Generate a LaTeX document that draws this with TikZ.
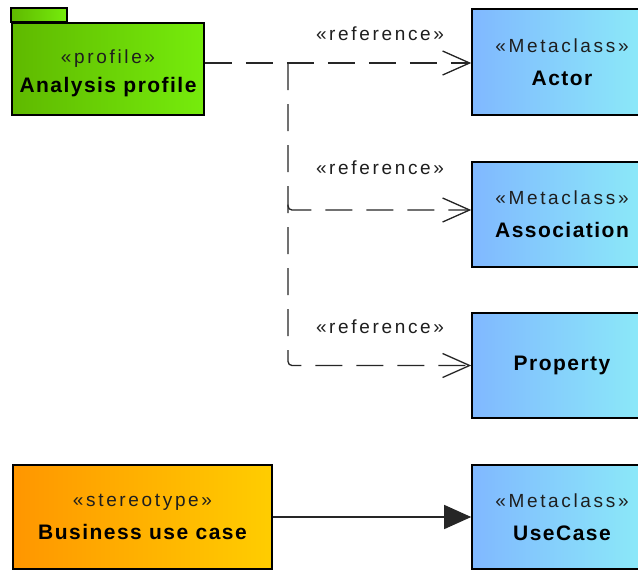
\documentclass[tikz,border=0pt]{standalone}
\usepackage{fontspec}
\setmainfont{Liberation Sans}
\newfontfamily\mystfont[LetterSpace=14]{Liberation Sans}
\newfontfamily\mynmfont[LetterSpace=7]{Liberation Sans}
\usetikzlibrary{arrows.meta}
\definecolor{pkgL}{RGB}{95,185,0}
\definecolor{pkgR}{RGB}{118,236,12}
\definecolor{metaL}{RGB}{128,184,255}
\definecolor{metaR}{RGB}{140,236,248}
\definecolor{bizL}{RGB}{255,150,0}
\definecolor{bizR}{RGB}{255,205,0}
\definecolor{txt}{RGB}{30,30,30}
\newcommand\mystereo[1]{{\mystfont\fontsize{19}{33}\selectfont\color{txt}#1}}
\newcommand\myname[1]{{\mynmfont\bfseries\fontsize{21}{33}\selectfont #1}}
\tikzset{
  box/.style={draw=black, line width=1.6pt, minimum width=180pt, minimum height=105pt,
    inner sep=0pt, align=center, font=\fontsize{19}{33}\selectfont},
  meta/.style={box, left color=metaL, right color=metaR},
  biz/.style={box, left color=bizL, right color=bizR},
  pkgbox/.style={box, left color=pkgL, right color=pkgR},
  lbl/.style={inner sep=0pt, font=\mystfont\fontsize{19}{22}\selectfont, text=txt},
  refline/.style={draw=black!85, line width=1.3pt, dash pattern=on 27pt off 14pt,
    -{Straight Barb[length=27pt,width=24pt,line width=1.3pt]}},
  solidline/.style={draw=black!85, line width=1.3pt, -{Triangle[length=27pt,width=24pt]}}
}
\begin{document}
\begin{tikzpicture}[x=1pt,y=-1pt]
\useasboundingbox (0,0) rectangle (638,571);
\clip (0,0) rectangle (638,571);
\fill[white] (0,0) rectangle (638,571);

% package
\node[pkgbox, minimum width=192pt, minimum height=92pt] (pkg) at (108,69) {};
\draw[line width=1.6pt, left color=pkgL, right color=pkgR]
  (pkg.north west) rectangle ([xshift=56pt,yshift=14pt]pkg.north west);
\node[inner sep=0pt, align=center, font=\fontsize{19}{29}\selectfont] (pkgtext) at (108,73)
  {\mystereo{«profile»}\\\myname{Analysis profile}};

% metaclasses
\node[meta, minimum height=106pt] (actor) at (562,62) {\mystereo{«Metaclass»}\\\myname{Actor}};
\node[meta] (assoc) at (562,214.5) {\mystereo{«Metaclass»}\\\myname{Association}};
\node[meta] (prop) at (562,365.5) {\myname{Property}};
\node[meta, minimum height=104pt] (usecase) at (562,517) {\mystereo{«Metaclass»}\\\myname{UseCase}};

% stereotype
\node[biz, minimum width=259pt, minimum height=104pt] (bizuc) at (142.5,517)
  {\mystereo{«stereotype»}\\\myname{Business use case}};

% connectors
\coordinate (j) at (288,63);
\draw[refline] (pkg.east |- j) -- (actor.west |- j);
\draw[refline, rounded corners=4pt] (j) |- (prop.west);
\draw[refline, rounded corners=4pt] ([yshift=10pt]j |- assoc.west) |- ([yshift=4.5pt]assoc.west);

\node[lbl] (l1) at (380,34) {«reference»};
\node[lbl] (l2) at (380,168) {«reference»};
\node[lbl] (l3) at (380,327) {«reference»};

\draw[solidline] (bizuc.east) -- (usecase.west);
\end{tikzpicture}
\end{document}
